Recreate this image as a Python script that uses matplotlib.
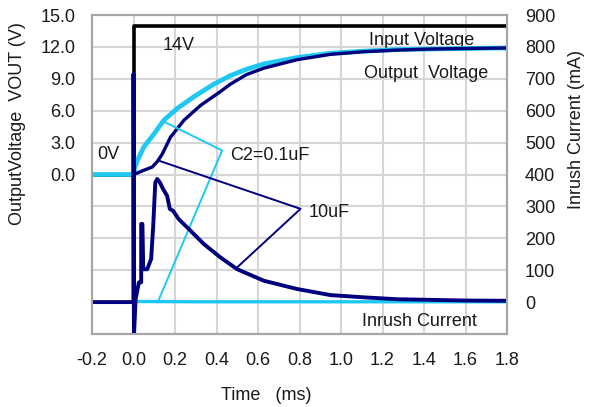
import numpy as np
import matplotlib.pyplot as plt

plt.rcParams['font.family'] = ['Liberation Sans', 'DejaVu Sans']

# time axis (ms) and values
t_in = [-0.2, 0.0, 0.0, 1.8]
v_in = [0.0, 0.0, 14.0, 14.0]

t_out_01 = [-0.2, 0.0, 0.005, 0.018, 0.05, 0.098, 0.146, 0.21, 0.29, 0.387,
            0.467, 0.545, 0.628, 0.789, 0.949, 1.11, 1.27, 1.43, 1.6, 1.8]
v_out_01 = [0.0, 0.0, 0.5, 1.3, 2.6, 3.8, 5.1, 6.2, 7.3, 8.5,
            9.3, 9.9, 10.4, 11.0, 11.4, 11.6, 11.75, 11.8, 11.85, 11.9]

t_out_10 = [0.0, 0.05, 0.09, 0.114, 0.138, 0.178, 0.243, 0.323, 0.419, 0.467,
            0.545, 0.628, 0.789, 0.949, 1.11, 1.27, 1.43, 1.6, 1.8]
v_out_10 = [0.0, 0.4, 0.7, 1.2, 1.9, 3.5, 5.1, 6.5, 7.8, 8.5,
            9.4, 10.0, 10.8, 11.3, 11.55, 11.7, 11.8, 11.85, 11.9]

t_inr_01 = [0.02, 0.3, 0.6, 1.0, 1.4, 1.8]
i_inr_01 = [2, 1, 1, 1, 1, 1]

t_inr_10 = [-0.2, 0.0, 0.0, 0.002, 0.01, 0.026, 0.037, 0.037, 0.043, 0.047,
            0.066, 0.085, 0.095, 0.105, 0.114, 0.127, 0.143, 0.162, 0.175,
            0.191, 0.218, 0.259, 0.339, 0.419, 0.5, 0.628, 0.789, 0.949,
            1.108, 1.271, 1.431, 1.6, 1.807]
i_inr_10 = [0, 0, 715, -110, 9, 62, 62, 245, 245, 103,
            103, 135, 239, 375, 386, 375, 354, 333, 292,
            286, 260, 234, 182, 140, 103, 67, 41, 22,
            15, 9, 7, 5, 4]

navy = '#00007f'
cyan = '#1ec8f2'
txt = '#1a1a1a'
fs = 13

fig = plt.figure(figsize=(5.9, 4.07), dpi=100)
ax = fig.add_axes([92/590, 1-334/407, (507-92)/590, (334-15)/407])
ax2 = ax.twinx()

ax.plot(t_in, v_in, color='black', lw=2.6, zorder=3)
ax.plot(t_out_01, v_out_01, color=cyan, lw=3.4, zorder=4)
ax.plot(t_out_10, v_out_10, color=navy, lw=2.4, zorder=5)

ax2.plot(t_inr_01, i_inr_01, color=cyan, lw=2.4)
ax2.plot(t_inr_10, i_inr_10, color=navy, lw=2.8)

# pointer lines
ax.plot([0.154, 0.427, 0.117], [4.9, 2.26, -12.0], color=cyan, lw=1.4, zorder=6)
ax.plot([0.122, 0.805, 0.492], [1.3, -3.23, -8.87], color=navy, lw=1.4, zorder=6)

ax.set_xlim(-0.2, 1.8)
ax.set_ylim(-15, 15)
ax2.set_ylim(-100, 900)

ax.set_xticks(np.arange(-0.2, 1.81, 0.2))
ax.set_xticklabels([f'{v:.1f}' for v in np.arange(-0.2, 1.81, 0.2)])
ax.set_yticks(np.arange(-15, 15.1, 3))
ax.set_yticklabels([f'{v:.1f}' if v >= 0 else '' for v in np.arange(-15, 15.1, 3)])
ax2.set_yticks(np.arange(0, 901, 100))
ax2.set_yticklabels([str(v) for v in range(0, 901, 100)])

ax.grid(True, color='#d6d6d6', lw=1.5)
ax.set_axisbelow(True)
for a in (ax, ax2):
    for s in a.spines.values():
        s.set_color('#a6a6a6')
        s.set_linewidth(1.5)
    a.tick_params(length=0, labelsize=fs, labelcolor=txt)
ax.tick_params(axis='x', pad=13)
ax.tick_params(axis='y', pad=12)
ax2.tick_params(axis='y', pad=13)

ax.set_xlabel('Time   (ms)', fontsize=fs, color=txt)
ax.xaxis.set_label_coords(0.42, -0.165)
ax.set_ylabel('OutputVoltage  VOUT (V)', fontsize=fs, color=txt)
ax.yaxis.set_label_coords(-0.158, 0.66)
ax2.set_ylabel('Inrush Current (mA)', fontsize=fs, color=txt)
ax2.yaxis.set_label_coords(1.148, 0.64)

ax.text(0.138, 12.1, '14V', fontsize=fs, color=txt, va='center')
ax.text(-0.175, 1.9, '0V', fontsize=fs, color=txt, va='center')
ax.text(1.133, 12.6, 'Input Voltage', fontsize=fs, color=txt, va='center')
ax.text(1.11, 9.5, 'Output  Voltage', fontsize=fs, color=txt, va='center')
ax.text(0.464, 1.8, 'C2=0.1uF', fontsize=fs, color=txt, va='center')
ax2.text(0.845, 281, '10uF', fontsize=fs, color=txt, va='center')
ax2.text(1.10, -60, 'Inrush Current', fontsize=fs, color=txt, va='center')

fig.savefig('out.png', dpi=100)
